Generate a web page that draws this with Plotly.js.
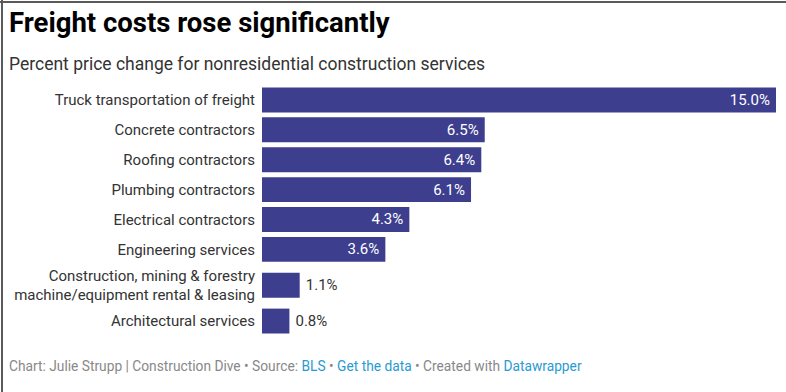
<!DOCTYPE html>
<html>
<head>
<meta charset="utf-8">
<script src="https://cdn.plot.ly/plotly-3.0.1.min.js"></script>
<style>
  html, body { margin: 0; padding: 0; background: #fff; }
  #wrap { position: relative; width: 786px; height: 392px; overflow: hidden; }
  #chart { width: 786px; height: 392px; }
  .edge { position: absolute; background: #5a5a5a; }
</style>
</head>
<body>
<div id="wrap">
  <div id="chart"></div>
  <div class="edge" style="left:0; top:1px; width:786px; height:2px;"></div>
  <div class="edge" style="left:1px; top:0; width:2px; height:392px;"></div>
</div>
<script>
// Percent price change, nonresidential construction services
const categories = [
  'Truck transportation of freight',
  'Concrete contractors',
  'Roofing contractors',
  'Plumbing contractors',
  'Electrical contractors',
  'Engineering services',
  'Construction, mining & forestry<br>machine/equipment rental & leasing',
  'Architectural services'
];
const values = [15.0, 6.5, 6.4, 6.1, 4.3, 3.6, 1.1, 0.8];

const titleText = 'Freight costs rose significantly';
const subtitleText = 'Percent price change for nonresidential construction services';
const footerParts = [
  ['Chart: Julie Strupp | Construction Dive • Source: ', false],
  ['BLS', true],
  [' • ', false],
  ['Get the data', true],
  [' • Created with ', false],
  ['Datawrapper', true]
];

const W = 786, H = 392;
const M = { l: 262, r: 10, t: 84.5, b: 55.5 };
const plotW = W - M.l - M.r, plotH = H - M.t - M.b;
const px2x = px => (px - M.l) / plotW;
const py2y = py => (H - M.b - py) / plotH;

// Rows grow with the number of label lines; one y unit = one pixel.
const rowH = categories.map(c => 18 + 12 * c.split('<br>').length);
const centers = [];
let acc = 0;
rowH.forEach(h => { centers.push(acc + h / 2); acc += h; });
const totalH = acc;

const barColor = '#3d3e8e';
const inside = values.map(v => v >= 2);
const FONT = 'Roboto, sans-serif';

const trace = {
  type: 'bar',
  orientation: 'h',
  x: values,
  y: centers,
  width: 25,
  marker: { color: barColor, line: { width: 0 } },
  text: values.map((v, i) => inside[i] ? v.toFixed(1) + '%\u2009' : '\u2009' + v.toFixed(1) + '%'),
  textposition: values.map((v, i) => inside[i] ? 'inside' : 'outside'),
  insidetextanchor: 'end',
  insidetextfont: { family: FONT, size: 15, color: '#ffffff' },
  outsidetextfont: { family: FONT, size: 15, color: '#333333' },
  cliponaxis: false,
  hoverinfo: 'skip'
};

const footerText = footerParts.map(([t, link]) =>
  link ? '<span style="color:#2a9ad0">' + t + '</span>' : t).join('');

const layout = {
  width: W, height: H,
  margin: M,
  paper_bgcolor: '#ffffff',
  plot_bgcolor: '#ffffff',
  showlegend: false,
  font: { family: FONT, color: '#333333' },
  xaxis: { range: [0, Math.max(...values)], visible: false, fixedrange: true },
  yaxis: {
    range: [totalH, 0],
    tickmode: 'array',
    tickvals: centers,
    ticktext: categories,
    ticks: '',
    ticklabelstandoff: 6,
    showgrid: false, zeroline: false, showline: false,
    tickfont: { family: FONT, size: 15, color: '#333333' },
    fixedrange: true
  },
  annotations: [
    { text: '<b>' + titleText + '</b>', xref: 'paper', yref: 'paper',
      x: px2x(7), y: py2y(21.5), xanchor: 'left', yanchor: 'middle', showarrow: false,
      font: { family: FONT, size: 27.5, color: '#000000' } },
    { text: subtitleText, xref: 'paper', yref: 'paper',
      x: px2x(7), y: py2y(63), xanchor: 'left', yanchor: 'middle', showarrow: false,
      font: { family: FONT, size: 17.5, color: '#333333' } },
    { text: footerText, xref: 'paper', yref: 'paper',
      x: px2x(7), y: py2y(367), xanchor: 'left', yanchor: 'middle', showarrow: false,
      font: { family: FONT, size: 13.75, color: '#888888' } }
  ]
};

Plotly.newPlot('chart', [trace], layout, { staticPlot: true, displayModeBar: false });
</script>
</body>
</html>
